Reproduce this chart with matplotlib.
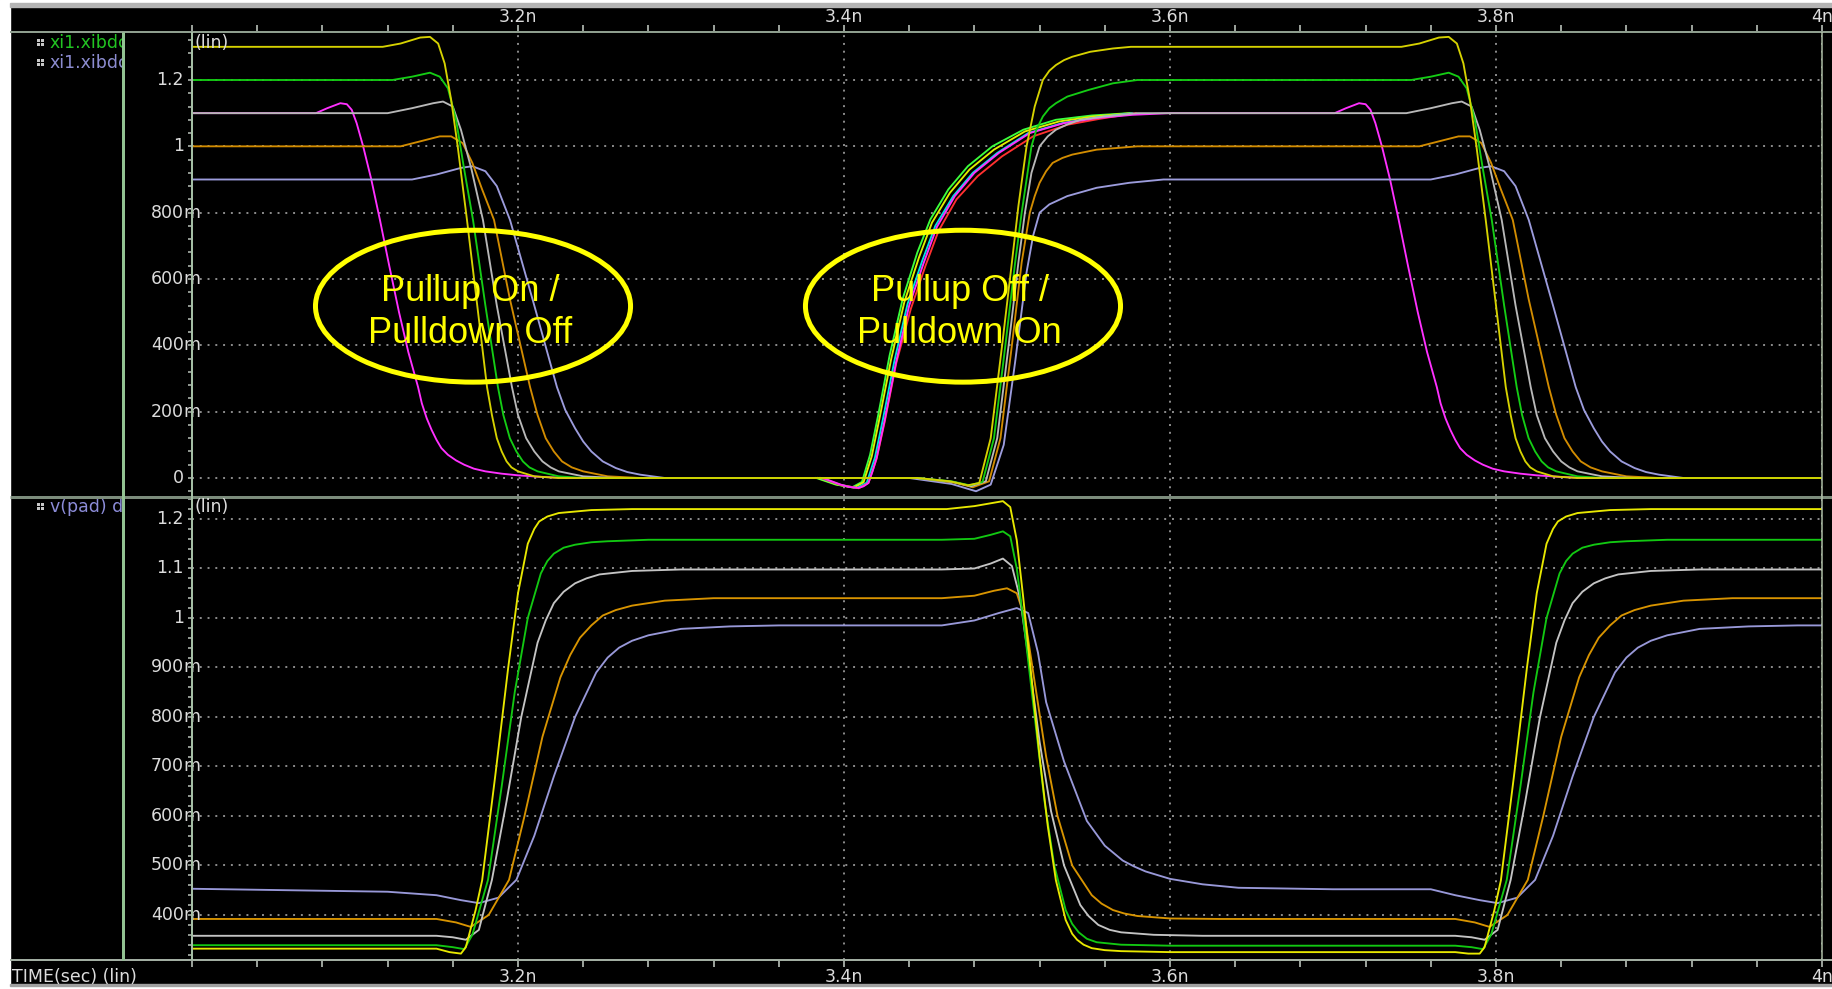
import matplotlib
matplotlib.use("Agg")
import matplotlib.pyplot as plt
from matplotlib.patches import Ellipse, Rectangle
from matplotlib.lines import Line2D
from matplotlib.ticker import FixedLocator, MultipleLocator
from matplotlib.transforms import blended_transform_factory

# ------------------------------------------------------------------ data
x_major = [3.2, 3.4, 3.6, 3.8, 4.0]
x_labels = ["3.2n", "3.4n", "3.6n", "3.8n", "4n"]

top_yticks = [0.0, 0.2, 0.4, 0.6, 0.8, 1.0, 1.2]
top_ylabels = ["0", "200m", "400m", "600m", "800m", "1", "1.2"]
bot_yticks = [0.4, 0.5, 0.6, 0.7, 0.8, 0.9, 1.0, 1.1, 1.2]
bot_ylabels = ["400m", "500m", "600m", "700m", "800m", "900m", "1", "1.1", "1.2"]

legend_top = ["xi1.xibdc", "xi1.xibdc"]
legend_bot = ["v(pad) d"]
axis_title = "TIME(sec) (lin)"
note_left = "Pullup On /\nPulldown Off"
note_right = "Pullup Off /\nPulldown On"

# ---- top panel (xi1.xibd...) : time in ns, value
top_yellow_t = [3.000, 3.117, 3.128, 3.140, 3.146, 3.151, 3.155, 3.159, 3.163, 3.1687, 3.175, 3.181, 3.184, 3.187, 3.190, 3.193, 3.196, 3.200, 3.210, 3.225,
                3.445, 3.465, 3.476, 3.483, 3.490, 3.497, 3.503, 3.507, 3.512, 3.517, 3.522, 3.526, 3.530, 3.535, 3.540, 3.551, 3.565, 3.576,
                3.742, 3.753, 3.765, 3.771, 3.776, 3.780, 3.784, 3.788, 3.7937, 3.800, 3.806, 3.809, 3.812, 3.815, 3.818, 3.821, 3.825, 3.835, 3.850, 4.000]
top_yellow_v = [1.30, 1.30, 1.31, 1.328, 1.33, 1.31, 1.25, 1.14, 1.00, 0.778, 0.52, 0.274, 0.19, 0.12, 0.08, 0.05, 0.032, 0.02, 0.005, 0.0,
                0.0, -0.01, -0.022, -0.015, 0.12, 0.40, 0.65, 0.82, 1.00, 1.12, 1.20, 1.228, 1.245, 1.26, 1.27, 1.285, 1.295, 1.30,
                1.30, 1.31, 1.328, 1.33, 1.31, 1.25, 1.14, 1.00, 0.778, 0.52, 0.274, 0.19, 0.12, 0.08, 0.05, 0.032, 0.02, 0.005, 0.0, 0.0]

top_green_t = [3.000, 3.123, 3.135, 3.146, 3.152, 3.157, 3.162, 3.167, 3.1724, 3.180, 3.1877, 3.191, 3.195, 3.199, 3.203, 3.207, 3.212, 3.225, 3.240,
               3.445, 3.466, 3.477, 3.485, 3.492, 3.499, 3.505, 3.509, 3.515, 3.518, 3.522, 3.526, 3.530, 3.537, 3.550, 3.565, 3.580,
               3.748, 3.760, 3.771, 3.777, 3.782, 3.787, 3.792, 3.7974, 3.805, 3.8127, 3.816, 3.820, 3.824, 3.828, 3.832, 3.837, 3.850, 3.865, 4.000]
top_green_v = [1.20, 1.20, 1.21, 1.222, 1.21, 1.175, 1.08, 0.93, 0.778, 0.52, 0.274, 0.19, 0.12, 0.08, 0.05, 0.032, 0.02, 0.005, 0.0,
               0.0, -0.01, -0.022, -0.012, 0.12, 0.40, 0.65, 0.80, 1.00, 1.05, 1.09, 1.115, 1.13, 1.15, 1.17, 1.19, 1.20,
               1.20, 1.21, 1.222, 1.21, 1.175, 1.08, 0.93, 0.778, 0.52, 0.274, 0.19, 0.12, 0.08, 0.05, 0.032, 0.02, 0.005, 0.0, 0.0]

top_gray_t = [3.000, 3.120, 3.135, 3.148, 3.154, 3.160, 3.165, 3.1715, 3.1785, 3.187, 3.1963, 3.200, 3.205, 3.210, 3.215, 3.220, 3.225, 3.240, 3.260,
              3.445, 3.467, 3.478, 3.487, 3.494, 3.501, 3.507, 3.511, 3.515, 3.520, 3.525, 3.530, 3.537, 3.545, 3.560, 3.580,
              3.745, 3.760, 3.773, 3.779, 3.785, 3.790, 3.7965, 3.8035, 3.812, 3.8213, 3.825, 3.830, 3.835, 3.840, 3.845, 3.850, 3.865, 3.885, 4.000]
top_gray_v = [1.10, 1.10, 1.115, 1.13, 1.135, 1.12, 1.05, 0.93, 0.778, 0.52, 0.274, 0.19, 0.12, 0.08, 0.05, 0.032, 0.02, 0.005, 0.0,
              0.0, -0.012, -0.025, -0.01, 0.12, 0.40, 0.65, 0.80, 0.92, 1.00, 1.03, 1.05, 1.066, 1.08, 1.09, 1.10,
              1.10, 1.115, 1.13, 1.135, 1.12, 1.05, 0.93, 0.778, 0.52, 0.274, 0.19, 0.12, 0.08, 0.05, 0.032, 0.02, 0.005, 0.0, 0.0]

top_orange_t = [3.000, 3.128, 3.140, 3.152, 3.159, 3.166, 3.172, 3.178, 3.1853, 3.195, 3.2074, 3.212, 3.217, 3.222, 3.227, 3.233, 3.240, 3.255, 3.275,
                3.445, 3.468, 3.479, 3.489, 3.496, 3.503, 3.509, 3.514, 3.517, 3.520, 3.524, 3.528, 3.534, 3.540, 3.555, 3.580,
                3.753, 3.765, 3.777, 3.784, 3.791, 3.797, 3.803, 3.8103, 3.820, 3.8324, 3.837, 3.842, 3.847, 3.852, 3.858, 3.865, 3.880, 3.900, 4.000]
top_orange_v = [1.00, 1.00, 1.015, 1.03, 1.03, 1.01, 0.95, 0.87, 0.778, 0.54, 0.274, 0.19, 0.12, 0.08, 0.05, 0.032, 0.02, 0.005, 0.0,
                0.0, -0.014, -0.028, -0.01, 0.12, 0.40, 0.65, 0.80, 0.85, 0.89, 0.925, 0.95, 0.965, 0.975, 0.99, 1.00,
                1.00, 1.015, 1.03, 1.03, 1.01, 0.95, 0.87, 0.778, 0.54, 0.274, 0.19, 0.12, 0.08, 0.05, 0.032, 0.02, 0.005, 0.0, 0.0]

top_lav_t = [3.000, 3.135, 3.150, 3.165, 3.172, 3.180, 3.187, 3.1951, 3.210, 3.2239, 3.229, 3.235, 3.240, 3.245, 3.252, 3.260, 3.267, 3.275, 3.290,
             3.440, 3.466, 3.481, 3.490, 3.498, 3.505, 3.512, 3.516, 3.520, 3.526, 3.537, 3.555, 3.575, 3.596,
             3.760, 3.775, 3.790, 3.797, 3.805, 3.812, 3.8201, 3.835, 3.8489, 3.854, 3.860, 3.865, 3.870, 3.877, 3.885, 3.892, 3.900, 3.915, 4.000]
top_lav_v = [0.90, 0.90, 0.915, 0.935, 0.94, 0.925, 0.88, 0.778, 0.52, 0.274, 0.205, 0.15, 0.11, 0.08, 0.05, 0.03, 0.018, 0.01, 0.0,
             0.0, -0.018, -0.04, -0.02, 0.10, 0.35, 0.62, 0.73, 0.80, 0.825, 0.85, 0.875, 0.89, 0.90,
             0.90, 0.915, 0.935, 0.94, 0.925, 0.88, 0.778, 0.52, 0.274, 0.205, 0.15, 0.11, 0.08, 0.05, 0.03, 0.018, 0.01, 0.0, 0.0]

top_mag_t = [3.000, 3.076, 3.083, 3.091, 3.095, 3.098, 3.101, 3.105, 3.110, 3.1153, 3.121, 3.127, 3.1327, 3.1387, 3.141, 3.144, 3.147, 3.150, 3.153, 3.157, 3.162, 3.167, 3.173, 3.180, 3.190, 3.200, 3.215, 3.230,
             3.387, 3.398, 3.403, 3.409, 3.412, 3.415, 3.4175, 3.420, 3.425, 3.432, 3.440, 3.449, 3.457, 3.468, 3.480, 3.495, 3.514, 3.535, 3.555, 3.577, 3.600,
             3.701, 3.708, 3.716, 3.720, 3.723, 3.726, 3.730, 3.735, 3.7403, 3.746, 3.752, 3.7577, 3.7637, 3.766, 3.769, 3.772, 3.775, 3.778, 3.782, 3.787, 3.792, 3.798, 3.805, 3.815, 3.825, 3.840, 3.855, 4.000]
top_mag_v = [1.10, 1.10, 1.115, 1.13, 1.127, 1.11, 1.07, 1.00, 0.90, 0.778, 0.64, 0.50, 0.38, 0.274, 0.225, 0.18, 0.145, 0.115, 0.09, 0.07, 0.053, 0.04, 0.028, 0.02, 0.013, 0.008, 0.003, 0.0,
             0.0, -0.02, -0.027, -0.03, -0.025, -0.015, 0.02, 0.06, 0.175, 0.35, 0.52, 0.65, 0.757, 0.85, 0.92, 0.98, 1.04, 1.07, 1.085, 1.095, 1.10,
             1.10, 1.115, 1.13, 1.127, 1.11, 1.07, 1.00, 0.90, 0.778, 0.64, 0.50, 0.38, 0.274, 0.225, 0.18, 0.145, 0.115, 0.09, 0.07, 0.053, 0.04, 0.028, 0.02, 0.013, 0.008, 0.003, 0.0, 0.0]

# other traces of the fast group (visible where they separate, on the rising edge)
fast_green_t = [3.383, 3.395, 3.405, 3.411, 3.416, 3.421, 3.428, 3.436, 3.445, 3.453, 3.464, 3.476, 3.491, 3.510, 3.530, 3.552, 3.575]
fast_green_v = [0.0, -0.02, -0.028, -0.012, 0.07, 0.19, 0.37, 0.54, 0.68, 0.78, 0.87, 0.94, 1.00, 1.05, 1.08, 1.093, 1.10]
fast_yellow_t = [3.384, 3.396, 3.406, 3.412, 3.417, 3.422, 3.429, 3.437, 3.446, 3.454, 3.465, 3.477, 3.492, 3.511, 3.532, 3.553, 3.576]
fast_yellow_v = [0.0, -0.02, -0.029, -0.013, 0.065, 0.185, 0.36, 0.53, 0.665, 0.77, 0.86, 0.93, 0.99, 1.045, 1.075, 1.09, 1.10]
fast_cyan_t = [3.385, 3.397, 3.408, 3.414, 3.419, 3.424, 3.431, 3.439, 3.448, 3.456, 3.467, 3.479, 3.494, 3.513, 3.534, 3.555, 3.577]
fast_cyan_v = [0.0, -0.02, -0.03, -0.014, 0.062, 0.18, 0.355, 0.525, 0.655, 0.76, 0.85, 0.92, 0.98, 1.04, 1.07, 1.087, 1.10]
fast_red_t = [3.386, 3.398, 3.409, 3.415, 3.420, 3.425, 3.432, 3.441, 3.450, 3.458, 3.469, 3.482, 3.497, 3.516, 3.537, 3.557, 3.579]
fast_red_v = [0.0, -0.021, -0.031, -0.015, 0.058, 0.17, 0.345, 0.51, 0.64, 0.745, 0.84, 0.91, 0.97, 1.03, 1.065, 1.083, 1.10]

# ---- bottom panel v(pad)
bot_yellow_t = [3.000, 3.150, 3.158, 3.165, 3.168, 3.170, 3.174, 3.178, 3.186, 3.194, 3.200, 3.206, 3.210, 3.213, 3.218, 3.225, 3.245, 3.270,
                3.463, 3.480, 3.494, 3.4975, 3.502, 3.506, 3.510, 3.515, 3.520, 3.525, 3.530, 3.536, 3.540, 3.543, 3.547, 3.552, 3.560, 3.570, 3.600,
                3.775, 3.783, 3.790, 3.793, 3.795, 3.799, 3.803, 3.811, 3.819, 3.825, 3.831, 3.835, 3.838, 3.843, 3.850, 3.870, 3.895, 4.000]
bot_yellow_v = [0.332, 0.332, 0.325, 0.322, 0.335, 0.36, 0.41, 0.47, 0.68, 0.90, 1.05, 1.15, 1.18, 1.195, 1.205, 1.212, 1.218, 1.22,
                1.22, 1.226, 1.234, 1.236, 1.224, 1.157, 1.04, 0.88, 0.72, 0.58, 0.47, 0.39, 0.362, 0.35, 0.34, 0.333, 0.329, 0.327, 0.325,
                0.325, 0.322, 0.322, 0.335, 0.36, 0.41, 0.47, 0.68, 0.90, 1.05, 1.15, 1.18, 1.195, 1.205, 1.212, 1.218, 1.22, 1.22]

bot_green_t = [3.000, 3.150, 3.160, 3.167, 3.172, 3.1816, 3.190, 3.198, 3.206, 3.214, 3.218, 3.222, 3.228, 3.235, 3.245, 3.255, 3.280,
               3.460, 3.480, 3.490, 3.4975, 3.502, 3.506, 3.511, 3.517, 3.523, 3.529, 3.536, 3.540, 3.544, 3.549, 3.555, 3.570, 3.600,
               3.775, 3.785, 3.792, 3.797, 3.8066, 3.815, 3.823, 3.831, 3.839, 3.843, 3.847, 3.853, 3.860, 3.870, 3.880, 3.905, 4.000]
bot_green_v = [0.339, 0.339, 0.335, 0.331, 0.36, 0.471, 0.66, 0.85, 1.00, 1.09, 1.115, 1.13, 1.142, 1.148, 1.153, 1.155, 1.158,
               1.158, 1.16, 1.168, 1.175, 1.165, 1.10, 0.97, 0.80, 0.63, 0.50, 0.41, 0.382, 0.365, 0.352, 0.345, 0.34, 0.338,
               0.338, 0.335, 0.331, 0.36, 0.471, 0.66, 0.85, 1.00, 1.09, 1.115, 1.13, 1.142, 1.148, 1.153, 1.155, 1.158, 1.158]

bot_gray_t = [3.000, 3.150, 3.160, 3.168, 3.176, 3.184, 3.193, 3.202, 3.212, 3.217, 3.222, 3.228, 3.235, 3.242, 3.250, 3.270, 3.300,
              3.460, 3.480, 3.490, 3.4975, 3.503, 3.508, 3.514, 3.520, 3.527, 3.535, 3.545, 3.550, 3.556, 3.563, 3.570, 3.590, 3.620,
              3.775, 3.785, 3.793, 3.801, 3.809, 3.818, 3.827, 3.837, 3.842, 3.847, 3.853, 3.860, 3.867, 3.875, 3.895, 3.925, 4.000]
bot_gray_v = [0.358, 0.358, 0.355, 0.35, 0.37, 0.471, 0.63, 0.80, 0.95, 0.995, 1.03, 1.053, 1.07, 1.08, 1.088, 1.095, 1.098,
              1.098, 1.10, 1.11, 1.12, 1.105, 1.04, 0.90, 0.75, 0.61, 0.50, 0.42, 0.398, 0.38, 0.37, 0.365, 0.36, 0.358,
              0.358, 0.355, 0.35, 0.37, 0.471, 0.63, 0.80, 0.95, 0.995, 1.03, 1.053, 1.07, 1.08, 1.088, 1.095, 1.098, 1.098]

bot_orange_t = [3.000, 3.150, 3.162, 3.171, 3.182, 3.1945, 3.204, 3.215, 3.226, 3.232, 3.238, 3.245, 3.252, 3.260, 3.270, 3.290, 3.320,
                3.460, 3.480, 3.492, 3.500, 3.506, 3.511, 3.517, 3.524, 3.531, 3.540, 3.552, 3.558, 3.565, 3.572, 3.580, 3.600, 3.630,
                3.775, 3.787, 3.796, 3.807, 3.8195, 3.829, 3.840, 3.851, 3.857, 3.863, 3.870, 3.877, 3.885, 3.895, 3.915, 3.945, 4.000]
bot_orange_v = [0.392, 0.392, 0.385, 0.376, 0.40, 0.471, 0.60, 0.76, 0.88, 0.925, 0.96, 0.985, 1.005, 1.016, 1.025, 1.035, 1.04,
                1.04, 1.045, 1.055, 1.06, 1.05, 1.00, 0.87, 0.72, 0.60, 0.50, 0.44, 0.423, 0.41, 0.403, 0.398, 0.393, 0.392,
                0.392, 0.385, 0.376, 0.40, 0.471, 0.60, 0.76, 0.88, 0.925, 0.96, 0.985, 1.005, 1.016, 1.025, 1.035, 1.04, 1.04]

bot_lav_t = [3.000, 3.060, 3.120, 3.150, 3.165, 3.176, 3.188, 3.199, 3.210, 3.222, 3.235, 3.248, 3.255, 3.262, 3.270, 3.280, 3.300, 3.330, 3.360,
             3.460, 3.480, 3.495, 3.506, 3.513, 3.519, 3.524, 3.535, 3.549, 3.560, 3.571, 3.578, 3.585, 3.600, 3.620, 3.642, 3.700,
             3.760, 3.775, 3.790, 3.801, 3.813, 3.824, 3.835, 3.847, 3.860, 3.873, 3.880, 3.887, 3.895, 3.905, 3.925, 3.955, 3.985, 4.000]
bot_lav_v = [0.453, 0.45, 0.447, 0.44, 0.43, 0.424, 0.435, 0.471, 0.56, 0.68, 0.80, 0.89, 0.92, 0.94, 0.954, 0.965, 0.978, 0.983, 0.985,
             0.985, 0.995, 1.01, 1.02, 1.01, 0.93, 0.83, 0.71, 0.59, 0.54, 0.51, 0.498, 0.488, 0.473, 0.462, 0.455, 0.452,
             0.452, 0.44, 0.43, 0.424, 0.435, 0.471, 0.56, 0.68, 0.80, 0.89, 0.92, 0.94, 0.954, 0.965, 0.978, 0.983, 0.985, 0.985]

# ------------------------------------------------------------------ styling
W, H = 1832, 989
GRID = "#8c8c8c"
TICK = "#b8c0b8"
LBL = "#dcdcdc"
FS = 12.5
YEL, GRN, GRY, ORG, LAV, MAG = "#d6d200", "#14cc14", "#b8b8b8", "#d28c00", "#9c9cdc", "#ff30ff"
BYEL, BGRN, BGRY, BORG, BLAV = "#e8e800", "#12c812", "#c4c4c4", "#d89400", "#9898d8"

fig = plt.figure(figsize=(W / 100, H / 100), dpi=100)
fig.patch.set_facecolor("black")


def rect(x0, y0, x1, y1):
    return [x0 / W, 1 - y1 / H, (x1 - x0) / W, (y1 - y0) / H]


def fline(xs, ys, color, lw_px):
    fig.add_artist(Line2D([x / W for x in xs], [1 - y / H for y in ys],
                          transform=fig.transFigure, color=color, lw=lw_px * 0.72,
                          solid_capstyle="butt"))


# white borders of the screenshot
fig.add_artist(Rectangle((0, 0), 10 / W, 1, transform=fig.transFigure, color="white", zorder=0))
fig.add_artist(Rectangle((0, 1 - 3 / H), 1, 3 / H, transform=fig.transFigure, color="white", zorder=0))
fig.add_artist(Rectangle((10 / W, 1 - 7 / H), 1, 4 / H, transform=fig.transFigure, color="#b4b4b4", zorder=0))
fig.add_artist(Rectangle((0, 0), 1, 3 / H, transform=fig.transFigure, color="white", zorder=0))
fig.add_artist(Rectangle((10 / W, 3 / H), 1, 2 / H, transform=fig.transFigure, color="#a0a0a0", zorder=0))

ax_t = fig.add_axes(rect(192, 32, 1822, 496))
ax_b = fig.add_axes(rect(192, 497, 1822, 960))

for ax in (ax_t, ax_b):
    ax.set_facecolor("black")
    for s in ax.spines.values():
        s.set_visible(False)
    ax.set_xlim(3.0, 4.0)
    ax.set_xticks(x_major, x_labels)
    ax.xaxis.set_minor_locator(MultipleLocator(0.04))
    ax.grid(True, which="major", color=GRID, linestyle=(0, (1, 3)), linewidth=1.4)
    ax.tick_params(axis="y", which="both", left=True, right=False, labelleft=False,
                   direction="out", length=3, width=1.1, color=TICK)
    for lab in ax.get_xticklabels():
        lab.set_fontfamily("DejaVu Sans")

ax_t.set_ylim(-0.0543, 1.3447)
ax_t.yaxis.set_major_locator(FixedLocator(top_yticks))
ax_t.yaxis.set_minor_locator(MultipleLocator(0.04))
ax_t.tick_params(axis="x", which="both", top=True, bottom=False, labeltop=True, labelbottom=False,
                 direction="out", length=5, width=1.2, color=TICK, labelcolor=LBL, labelsize=FS, pad=-0.5)

ax_b.set_ylim(0.3091, 1.2444)
ax_b.yaxis.set_major_locator(FixedLocator(bot_yticks))
ax_b.yaxis.set_minor_locator(MultipleLocator(0.02))
ax_b.tick_params(axis="x", which="both", top=False, bottom=True, labeltop=False, labelbottom=True,
                 direction="out", length=5, width=1.2, color=TICK, labelcolor=LBL, labelsize=FS, pad=0.5)

# y tick labels: number right-aligned, unit suffix hanging over the axis
for ax, ticks, labels in ((ax_t, top_yticks, top_ylabels), (ax_b, bot_yticks, bot_ylabels)):
    tr = blended_transform_factory(fig.transFigure, ax.transData)
    for v, lab in zip(ticks, labels):
        num, suf = (lab[:-1], lab[-1]) if lab.endswith("m") else (lab, "")
        ax.text(184 / W, v, num, transform=tr, ha="right", va="center",
                color=LBL, fontsize=FS, family="DejaVu Sans")
        if suf:
            ax.text(183 / W, v, suf, transform=tr, ha="left", va="center",
                    color=LBL, fontsize=FS, family="DejaVu Sans")

# "(lin)" tags
fig.text(195 / W, 1 - 43 / H, "(lin)", color=LBL, fontsize=FS, ha="left", va="center", family="DejaVu Sans")
fig.text(195 / W, 1 - 507 / H, "(lin)", color=LBL, fontsize=FS, ha="left", va="center", family="DejaVu Sans")
fig.text(12 / W, 1 - 977 / H, axis_title, color=LBL, fontsize=FS, ha="left", va="center", family="DejaVu Sans")

# ---- curves
lw = 1.35
for t, v, c in ((fast_green_t, fast_green_v, "#3cff3c"), (fast_yellow_t, fast_yellow_v, "#e0f000"),
                (fast_cyan_t, fast_cyan_v, "#00e0e0"), (fast_red_t, fast_red_v, "#ff3030"),
                (top_mag_t, top_mag_v, MAG)):
    ax_t.plot(t, v, color=c, lw=lw, solid_joinstyle="round")
for t, v, c in ((top_lav_t, top_lav_v, LAV), (top_orange_t, top_orange_v, ORG),
                (top_gray_t, top_gray_v, GRY), (top_green_t, top_green_v, GRN),
                (top_yellow_t, top_yellow_v, YEL)):
    ax_t.plot(t, v, color=c, lw=lw, solid_joinstyle="round")

for t, v, c in ((bot_lav_t, bot_lav_v, BLAV), (bot_orange_t, bot_orange_v, BORG),
                (bot_gray_t, bot_gray_v, BGRY), (bot_green_t, bot_green_v, BGRN),
                (bot_yellow_t, bot_yellow_v, BYEL)):
    ax_b.plot(t, v, color=c, lw=lw, solid_joinstyle="round")

# ---- annotations
for cx, text in ((3.1724, note_left), (3.4730, note_right)):
    ax_t.add_patch(Ellipse((cx, 0.518), 0.1933, 0.458, fill=False, edgecolor="#ffff00", lw=3.6, zorder=5))
    ax_t.text(cx - 0.002, 0.50, text, color="#ffff00", fontsize=26, family="Liberation Sans",
              ha="center", va="center", linespacing=1.25, zorder=6)

# ---- frame lines of the viewer
fline([10, 1832], [32, 32], "#8e9e8e", 2)
fline([10, 1832], [496.5, 496.5], "#7c8c7c", 3)
fline([10, 1832], [960, 960], "#a2aea2", 2)
fline([123, 123], [32, 960], "#92c292", 3)
fline([192, 192], [32, 960], "#a4bea4", 2)
fline([1822, 1822], [32, 960], "#b0c0a8", 1.5)

# ---- signal name panel
ax_l = fig.add_axes(rect(10, 33, 122, 959))
ax_l.set_xlim(10, 122)
ax_l.set_ylim(959, 33)
ax_l.axis("off")
for ypix, name, col in ((43, legend_top[0], "#22c422"), (63, legend_top[1], "#8c8cd0"),
                        (507, legend_bot[0], "#8c8cd8")):
    t = ax_l.text(50, ypix, name, color=col, fontsize=FS, family="DejaVu Sans", ha="left", va="center")
    t.set_clip_box(ax_l.bbox)
    t.set_clip_on(True)
    for dx in (0, 4):
        for dy in (-4, 0):
            ax_l.add_patch(Rectangle((37 + dx, ypix + dy), 3, 3, color="#c8c8c8", lw=0))

fig.savefig("out.png", dpi=100, facecolor=fig.get_facecolor())
